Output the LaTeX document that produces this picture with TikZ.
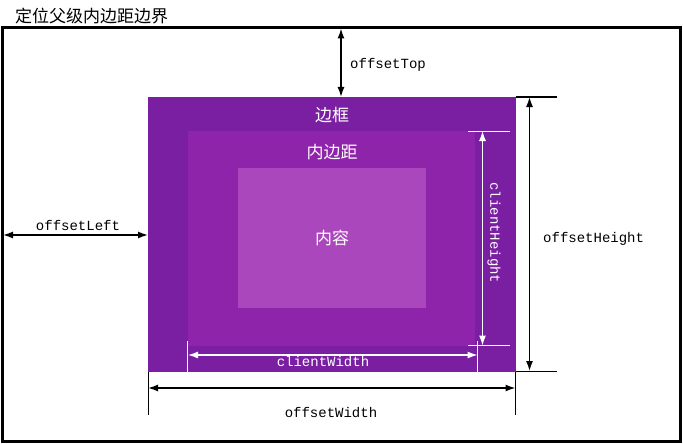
\documentclass[tikz,border=0pt]{standalone}
\usepackage{fontspec}
\usepackage{tikz}
\usetikzlibrary{arrows.meta}
\newfontfamily\cjk{Noto Sans CJK SC}
\newfontfamily\codefont{Liberation Mono}
\definecolor{borderpurple}{HTML}{7B1FA2}
\definecolor{paddingpurple}{HTML}{8E24AA}
\definecolor{contentpurple}{HTML}{AB47BC}

\begin{document}
\begin{tikzpicture}[x=1pt,y=-1pt,>={Latex[length=10pt,width=7pt]},
  dim/.style={<->,line width=1.4pt},
  ext/.style={line width=1pt},
  cdim/.style={<->,white,line width=1.2pt,>={Latex[length=10pt,width=7pt,open,fill=white]}},
  cext/.style={white,line width=1pt},
  code/.style={font=\codefont\fontsize{14}{14}\selectfont,inner sep=1pt},
  zh/.style={font=\cjk\fontsize{17}{17}\selectfont,inner sep=0pt}]
\useasboundingbox (0,0) rectangle (683,444);
% parent box
\draw[line width=3pt] (2.5,28) rectangle (680,441.5);
\node[zh,anchor=west] (title) at (15,16) {定位父级内边距边界};
% box model
\fill[borderpurple] (148,97) rectangle (515.5,371.5);
\fill[paddingpurple] (188,131) rectangle (475,345.5);
\fill[contentpurple] (238,168) rectangle (426,308);
\node[zh,white] (border) at (332,115) {边框};
\node[zh,white] (padding) at (332,152) {内边距};
\node[zh,white] (content) at (332,238) {内容};
% offset dimensions
\coordinate (top0) at (341,28.5);
\coordinate (top1) at (341,97);
\draw[dim] (top0) -- (top1);
\node[code,anchor=west] (offsettop) at (349,65) {offsetTop};
\coordinate (left0) at (3,235);
\coordinate (left1) at (148,235);
\draw[dim] (left0) -- (left1);
\node[code] (offsetleft) at (78,225) {offsetLeft};
\coordinate (h0) at (529.5,97);
\coordinate (h1) at (529.5,371);
\draw[ext] (515.5,97) -- (557,97);
\draw[ext] (515.5,371) -- (557,371);
\draw[dim] (h0) -- (h1);
\node[code,anchor=west] (offsetheight) at (542,239) {offsetHeight};
\coordinate (w0) at (148,388);
\coordinate (w1) at (515.5,388);
\draw[ext] (148,372) -- (148,415);
\draw[ext] (515.5,372) -- (515.5,415);
\draw[dim] (w0) -- (w1);
\node[code] (offsetwidth) at (331,413) {offsetWidth};
% client dimensions
\coordinate (cw0) at (188,355);
\coordinate (cw1) at (477.5,355);
\draw[cext] (187.5,341) -- (187.5,372);
\draw[cext] (477.5,341) -- (477.5,372);
\draw[cdim] (cw0) -- (cw1);
\node[code,white] (clientwidth) at (323,362) {clientWidth};
\coordinate (ch0) at (482.5,131);
\coordinate (ch1) at (482.5,345.5);
\draw[cext] (468,131) -- (510,131);
\draw[cext] (468,345.5) -- (510,345.5);
\draw[cdim] (ch0) -- (ch1);
\node[code,white,rotate=-90] (clientheight) at (494,233) {clientHeight};
\end{tikzpicture}
\end{document}
